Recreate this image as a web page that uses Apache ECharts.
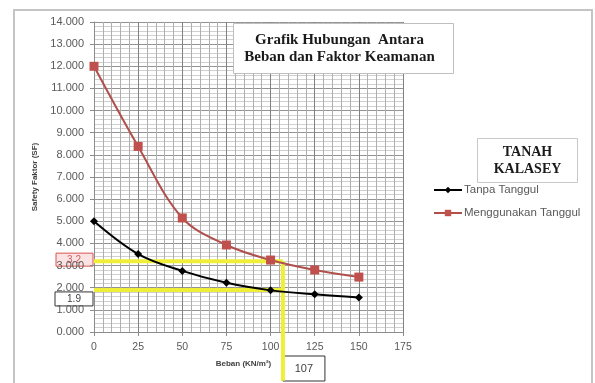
<!DOCTYPE html>
<html>
<head>
<meta charset="utf-8">
<script src="https://cdn.jsdelivr.net/npm/echarts@6/dist/echarts.min.js"></script>
<style>
  html, body { margin: 0; padding: 0; background: #ffffff; }
  #chart { width: 595px; height: 383px; }
</style>
</head>
<body>
<div id="chart"></div>
<script>
// Load (kN/m²) on the x axis
const beban = [0, 25, 50, 75, 100, 125, 150];
// Safety factor without embankment
const tanpaTanggul = [5.0, 3.52, 2.76, 2.22, 1.88, 1.70, 1.56];
// Safety factor with embankment
const menggunakanTanggul = [12.0, 8.38, 5.15, 3.93, 3.25, 2.80, 2.48];

// Read-off values for the design check
const sfDengan = 3.2;
const sfTanpa = 1.9;
const bebanBaca = 107;
const yBawah = -2.2;

const pairs = (xs, ys) => xs.map((x, i) => [x, ys[i]]);

const chart = echarts.init(document.getElementById('chart'), null, { renderer: 'canvas' });

const labelFont = 'Liberation Sans';
const yellow = '#EFEF3A';

const option = {
  backgroundColor: '#ffffff',
  animation: false,
  grid: { left: 94, right: 192, top: 22, bottom: 51 },
  xAxis: {
    type: 'value', min: 0, max: 175, interval: 25,
    name: 'Beban (KN/m²)', nameLocation: 'middle', nameGap: 28,
    nameTextStyle: { fontSize: 8, fontWeight: 'bold', color: '#404040', fontFamily: labelFont, padding: [0, 10, 0, 0] },
    axisLine: { show: true, onZero: false, lineStyle: { color: '#8C8C8C', width: 1 } },
    axisTick: { show: true, length: 4, lineStyle: { color: '#8C8C8C' } },
    axisLabel: { fontSize: 10.5, color: '#595959', fontFamily: labelFont, margin: 10 },
    splitLine: { show: true, lineStyle: { color: '#808080', width: 1 } },
    minorTick: { show: false, splitNumber: 5 },
    minorSplitLine: { show: true, lineStyle: { color: '#AFAFAF', width: 1 } }
  },
  yAxis: {
    type: 'value', min: 0, max: 14, interval: 1,
    name: 'Safety Faktor (SF)', nameLocation: 'middle', nameGap: 55, nameRotate: 90,
    nameTextStyle: { fontSize: 8, fontWeight: 'bold', color: '#404040', fontFamily: labelFont },
    axisLine: { show: true, lineStyle: { color: '#8C8C8C', width: 1 } },
    axisTick: { show: true, length: 4, lineStyle: { color: '#8C8C8C' } },
    axisLabel: {
      fontSize: 11, color: '#595959', fontFamily: labelFont, margin: 10,
      formatter: v => v.toFixed(3)
    },
    splitLine: { show: true, lineStyle: { color: '#949494', width: 1 } },
    minorTick: { show: false, splitNumber: 5 },
    minorSplitLine: { show: true, lineStyle: { color: '#D0D0D0', width: 1 } }
  },
  legend: {
    orient: 'vertical', left: 428, top: 179, itemGap: 11,
    itemWidth: 28, itemHeight: 8,
    textStyle: { fontSize: 11.5, color: '#595959', fontFamily: labelFont, padding: [0, 0, 0, -3] },
    data: ['Tanpa Tanggul', 'Menggunakan Tanggul']
  },
  series: [
    {
      name: 'Tanpa Tanggul', type: 'line', smooth: 0.35,
      data: pairs(beban, tanpaTanggul),
      symbol: 'diamond', symbolSize: 8,
      itemStyle: { color: '#000000' },
      lineStyle: { color: '#000000', width: 2 },
      z: 5
    },
    {
      name: 'Menggunakan Tanggul', type: 'line', smooth: 0.35,
      data: pairs(beban, menggunakanTanggul),
      symbol: 'rect', symbolSize: 9,
      itemStyle: { color: '#C0504D' },
      lineStyle: { color: '#B0504D', width: 2 },
      z: 5
    },
    {
      name: 'garis SF dengan tanggul', type: 'line', silent: true, symbol: 'none',
      data: [[0, sfDengan], [bebanBaca, sfDengan]],
      lineStyle: { color: yellow, width: 4 }, z: 4
    },
    {
      name: 'garis SF tanpa tanggul', type: 'line', silent: true, symbol: 'none',
      data: [[0, sfTanpa], [bebanBaca, sfTanpa]],
      lineStyle: { color: yellow, width: 4 }, z: 4
    },
    {
      name: 'garis beban', type: 'line', silent: true, symbol: 'none', clip: false,
      data: [[bebanBaca, sfDengan], [bebanBaca, yBawah]],
      lineStyle: { color: yellow, width: 4 }, z: 4
    }
  ]
};

chart.setOption(option);

// Frame, title boxes and value call-outs placed from the axis scales
const pDengan = chart.convertToPixel({ gridIndex: 0 }, [0, sfDengan]);
const pTanpa = chart.convertToPixel({ gridIndex: 0 }, [0, sfTanpa]);
const pBeban = chart.convertToPixel({ gridIndex: 0 }, [bebanBaca, yBawah]);

chart.setOption({
  graphic: [
    {
      type: 'rect', silent: true, z: -1,
      shape: { x: 14, y: 10, width: 578, height: 400 },
      style: { fill: 'none', stroke: '#C4C4C4', lineWidth: 2 }
    },
    {
      type: 'group', left: 233, top: 23, z: 10,
      children: [
        { type: 'rect', shape: { x: 0, y: 0, width: 220, height: 50 },
          style: { fill: '#ffffff', stroke: '#BFBFBF', lineWidth: 1 } },
        { type: 'text', style: {
            x: 106, y: 25, text: 'Grafik Hubungan  Antara\nBeban dan Faktor Keamanan',
            align: 'center', verticalAlign: 'middle', lineHeight: 17,
            font: 'bold 15px "Liberation Serif"', fill: '#1a1a1a' } }
      ]
    },
    {
      type: 'group', left: 477, top: 138, z: 10,
      children: [
        { type: 'rect', shape: { x: 0, y: 0, width: 100, height: 44 },
          style: { fill: '#ffffff', stroke: '#C8C8C8', lineWidth: 1 } },
        { type: 'text', style: {
            x: 50, y: 22, text: 'TANAH\nKALASEY',
            align: 'center', verticalAlign: 'middle', lineHeight: 17,
            font: 'bold 14px "Liberation Serif"', fill: '#1a1a1a' } }
      ]
    },
    {
      type: 'group', x: 56, y: pDengan[1] - 8, z: 10,
      children: [
        { type: 'rect', shape: { x: 0, y: 0, width: 37, height: 13 },
          style: { fill: '#FBE3E3', stroke: '#D9534F', lineWidth: 1 } },
        { type: 'text', style: {
            x: 18, y: 7, text: String(sfDengan), align: 'center', verticalAlign: 'middle',
            font: '10px "Liberation Sans"', fill: '#D46060' } }
      ]
    },
    {
      type: 'group', x: 55, y: pTanpa[1] + 2, z: 10,
      children: [
        { type: 'rect', shape: { x: 0, y: 0, width: 38, height: 14 },
          style: { fill: '#ffffff', stroke: '#333333', lineWidth: 1 } },
        { type: 'text', style: {
            x: 19, y: 7, text: String(sfTanpa), align: 'center', verticalAlign: 'middle',
            font: '10px "Liberation Sans"', fill: '#404040' } }
      ]
    },
    {
      type: 'group', x: pBeban[0], y: 356, z: 10,
      children: [
        { type: 'rect', shape: { x: 0, y: 0, width: 42, height: 25 },
          style: { fill: '#ffffff', stroke: '#333333', lineWidth: 1 } },
        { type: 'text', style: {
            x: 21, y: 13, text: String(bebanBaca), align: 'center', verticalAlign: 'middle',
            font: '11px "Liberation Sans"', fill: '#404040' } }
      ]
    }
  ]
});
</script>
</body>
</html>
